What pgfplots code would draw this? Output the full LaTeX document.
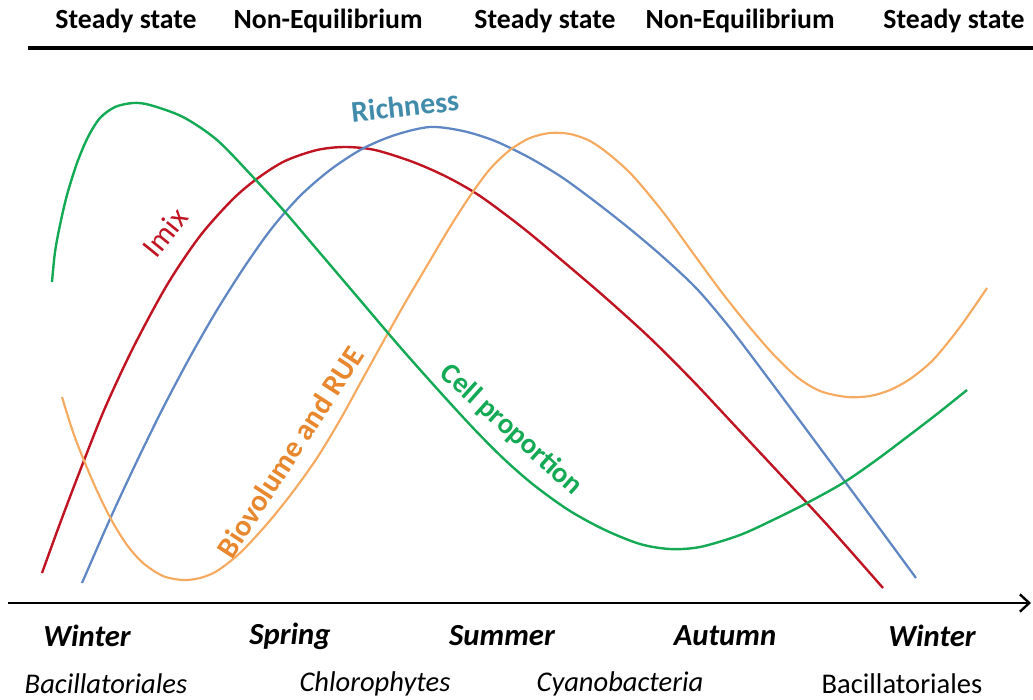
\documentclass[border=0pt]{standalone}
\usepackage{pgfplots}
\pgfplotsset{compat=1.18}
\usetikzlibrary{arrows.meta}
\usepackage{fontspec}
\setmainfont{Carlito}
\definecolor{cred}{RGB}{192,20,35}
\definecolor{cblue}{RGB}{95,135,195}
\definecolor{corange}{RGB}{245,170,95}
\definecolor{corangetxt}{RGB}{232,135,45}
\definecolor{cgreen}{RGB}{20,170,85}
\definecolor{cteal}{RGB}{65,140,170}
\begin{document}
\begin{tikzpicture}
\begin{axis}[width=774.75pt,height=524.25pt,scale only axis,
  xmin=0,xmax=1033,ymin=0,ymax=699,y dir=reverse,hide axis,clip=false]
% Imix
\addplot[cred,line width=1.8pt,smooth] coordinates {
(42,573) (62,518) (83,463) (105,408) (133,348) (167,285) (200,236) (233,199)
(258,178) (285,161) (317,150) (345,147) (375,150) (413,162) (447,177) (480,196)
(523,228) (565,263) (607,299) (650,338) (693,381) (737,428) (780,474) (830,528)
(883,588)};
% Richness
\addplot[cblue,line width=1.7pt,smooth] coordinates {
(82,583) (110,519) (137,461) (163,408) (190,357) (217,310) (245,266) (272,228)
(300,196) (330,170) (362,149) (395,135) (430,127) (463,131) (495,141) (530,158)
(563,178) (597,203) (630,229) (663,257) (697,289) (730,328) (765,374) (800,421)
(843,479) (880,529) (916,578)};
% Biovolume and RUE
\addplot[corange,line width=1.6pt,smooth] coordinates {
(62,397) (73,432) (85,463) (98,493) (112,521) (127,545) (143,563) (163,576)
(183,580) (200,578) (217,571) (240,553) (267,524) (292,493) (317,458) (340,420)
(362,380) (383,342) (405,303) (428,264) (450,227) (470,196) (490,169) (510,150)
(530,138) (550,133) (570,134) (590,141) (610,155) (633,176) (663,212) (690,249)
(720,290) (747,324) (773,354) (797,377) (820,391) (847,397) (870,396) (890,390)
(910,379) (933,360) (960,327) (987,288)};
% Cell proportion
\addplot[cgreen,line width=1.8pt,smooth] coordinates {
(52,282) (55,252) (60,225) (67,195) (77,163) (88,137) (100,118) (115,107)
(133,103) (150,105) (183,117) (217,140) (253,177) (285,212) (320,253) (360,300)
(400,347) (440,392) (475,430) (505,460) (535,486) (570,511) (605,530) (640,544)
(670,549) (700,547) (740,535) (775,519) (807,503) (843,483) (875,461) (907,437)
(937,414) (967,390)};
% top rule and bottom arrow
\draw[line width=3pt] (axis cs:28,48) -- (axis cs:1033,48);
\draw[line width=1.8pt,-{Straight Barb[length=7pt,width=13pt]}] (axis cs:8,603) -- (axis cs:1031,603);
% top labels
\begin{scope}[every node/.style={font=\bfseries\fontsize{20.8}{24}\selectfont}]
\node at (axis cs:126,21) {Steady state};
\node at (axis cs:328,21) {Non-Equilibrium};
\node at (axis cs:545,21) {Steady state};
\node at (axis cs:740,21) {Non-Equilibrium};
\node at (axis cs:954,21) {Steady state};
\end{scope}
% seasons
\begin{scope}[every node/.style={font=\bfseries\itshape\fontsize{23}{26}\selectfont}]
\node at (axis cs:87,636) {Winter};
\node at (axis cs:290,636) {Spring};
\node at (axis cs:502,636) {Summer};
\node at (axis cs:725,636) {Autumn};
\node at (axis cs:932,636) {Winter};
\end{scope}
% taxa
\begin{scope}[every node/.style={font=\fontsize{21.4}{24}\selectfont}]
\node at (axis cs:106,684) {\itshape Bacillatoriales};
\node at (axis cs:375,684) {\itshape Chlorophytes};
\node at (axis cs:620,684) {\itshape Cyanobacteria};
\node at (axis cs:902,684) {Bacillatoriales};
\end{scope}
% curve labels
\node[text=cteal,rotate=6,font=\bfseries\fontsize{22.5}{26}\selectfont] at (axis cs:405,106) {Richness};
\node[text=cred,rotate=51,font=\fontsize{23}{26}\selectfont] at (axis cs:165,232) {Imix};
\node[text=corangetxt,rotate=57,font=\bfseries\fontsize{22.5}{26}\selectfont] at (axis cs:290,452) {Biovolume and RUE};
\node[text=cgreen,rotate=-42,font=\bfseries\fontsize{21.6}{24}\selectfont] at (axis cs:511,430) {Cell proportion};
\coordinate (BL) at (axis cs:0,699);
\coordinate (TR) at (axis cs:1033,0);
\end{axis}
\pgfresetboundingbox
\path[use as bounding box] (BL) rectangle (TR);
\end{tikzpicture}
\end{document}
